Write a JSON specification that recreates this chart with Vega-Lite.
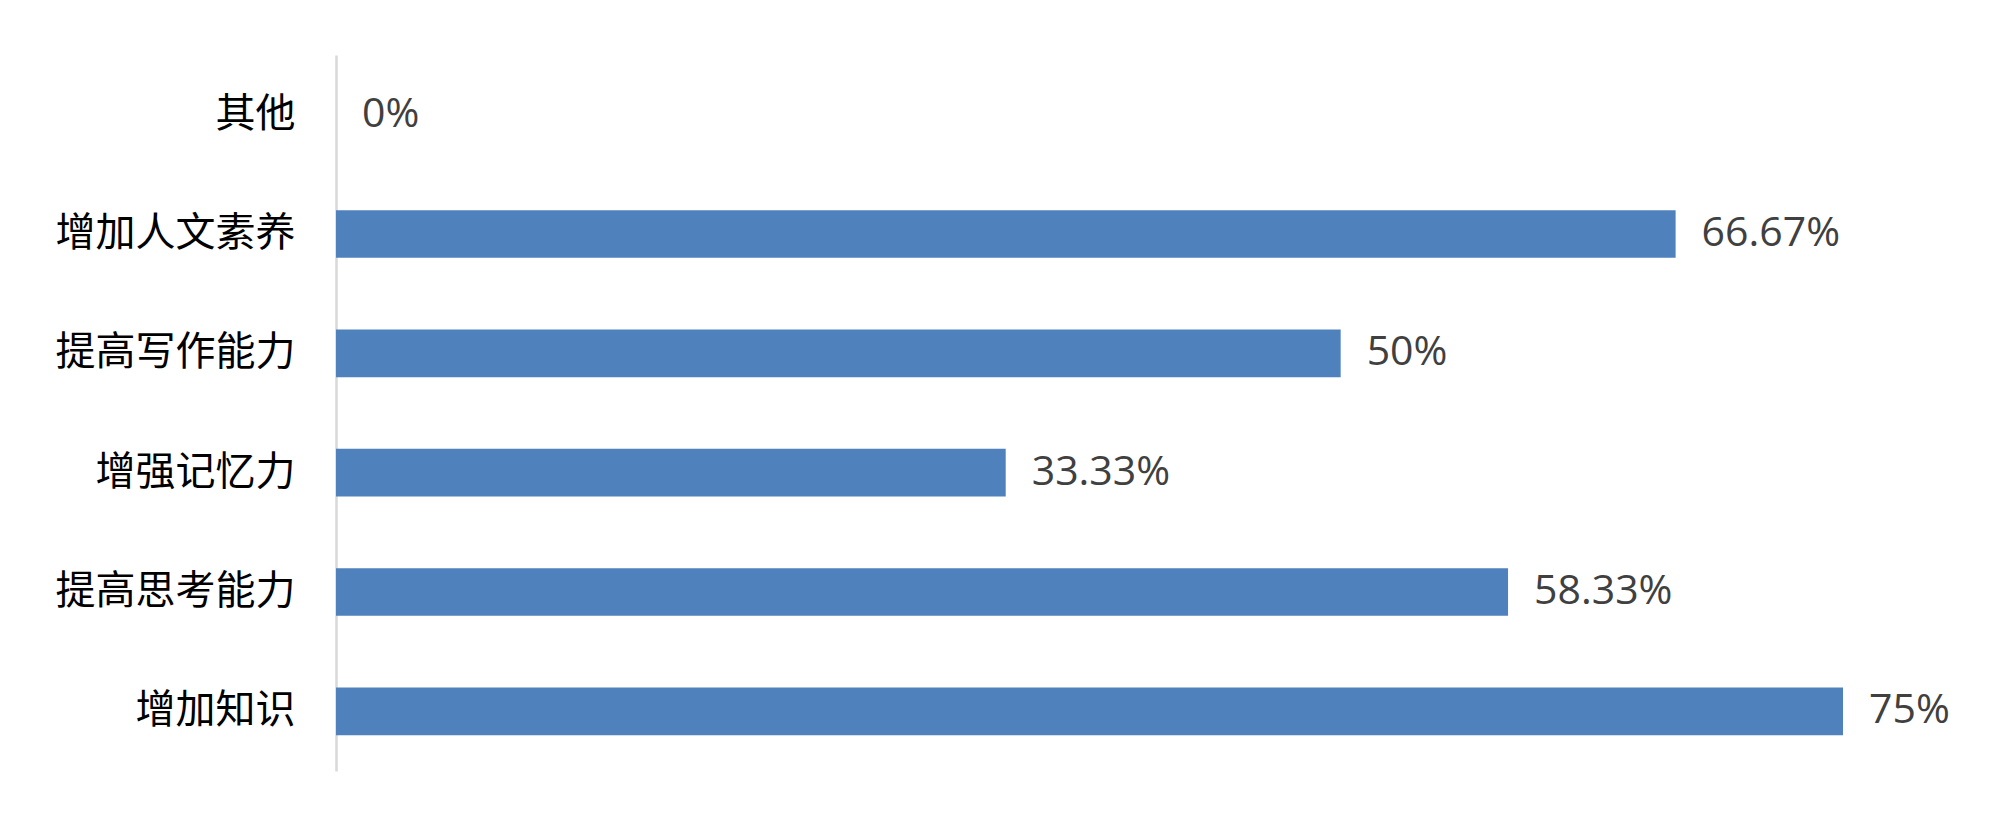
{
  "$schema": "https://vega.github.io/schema/vega-lite/v6.json",
  "autosize": {"type": "none"},
  "width": 1507,
  "height": 716,
  "padding": {"left": 336, "top": 55, "right": 157, "bottom": 61},
  "background": "white",
  "config": {"view": {"stroke": null}},
  "data": {
    "values": [
      {"item": "其他", "value": 0},
      {"item": "增加人文素养", "value": 0.6667},
      {"item": "提高写作能力", "value": 0.5},
      {"item": "增强记忆力", "value": 0.3333},
      {"item": "提高思考能力", "value": 0.5833},
      {"item": "增加知识", "value": 0.75}
    ]
  },
  "encoding": {
    "y": {
      "field": "item",
      "type": "nominal",
      "sort": ["其他", "增加人文素养", "提高写作能力", "增强记忆力", "提高思考能力", "增加知识"],
      "scale": {"paddingInner": 0.6, "paddingOuter": 0.3},
      "axis": {
        "title": null,
        "ticks": false,
        "grid": false,
        "domainColor": "#d9d9d9",
        "domainWidth": 2.5,
        "labelFont": "Noto Sans CJK SC",
        "labelFontSize": 40,
        "labelFontWeight": "normal",
        "labelColor": "#000000",
        "labelPadding": 41,
        "labelLimit": 0
      }
    },
    "x": {
      "field": "value",
      "type": "quantitative",
      "scale": {"domain": [0, 0.75], "nice": false, "zero": true},
      "axis": null
    }
  },
  "layer": [
    {"mark": {"type": "bar", "color": "#4f81bd"}},
    {
      "mark": {"type": "text", "align": "left", "baseline": "middle", "dx": 26, "font": "Open Sans", "fontSize": 41, "color": "#404040"},
      "encoding": {"text": {"field": "value", "type": "quantitative", "format": ".2~%"}}
    }
  ]
}
